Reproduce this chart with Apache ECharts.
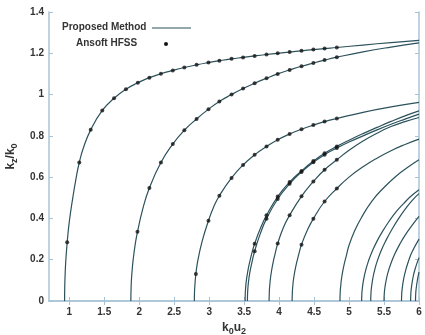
<!DOCTYPE html>
<html>
<head>
<meta charset="utf-8">
<script src="https://cdn.jsdelivr.net/npm/echarts@6/dist/echarts.min.js"></script>
<style>html,body{margin:0;padding:0;background:#fff;}#chart{width:425px;height:335px;}</style>
</head>
<body>
<div id="chart"></div>
<script>
// ---- tick labels ----
const xTicks = [1, 1.5, 2, 2.5, 3, 3.5, 4, 4.5, 5, 5.5, 6];
const yTicks = [0, 0.2, 0.4, 0.6, 0.8, 1, 1.2, 1.4];

// ---- Proposed Method curves (k0u2, kz/k0) ----
const curve1 = [[0.933,0],[0.935,0.066],[0.94,0.124],[0.95,0.193],[0.97,0.284],[1.0,0.383],[1.05,0.5],[1.1,0.6],[1.143,0.671],[1.2,0.74],[1.306,0.829],[1.472,0.923],[1.64,0.982],[1.81,1.026],[1.98,1.057],[2.145,1.082],[2.31,1.101],[2.48,1.117],[2.645,1.131],[2.82,1.144],[2.99,1.155],[3.146,1.164],[3.32,1.173],[3.485,1.180],[3.65,1.187],[3.82,1.194],[3.98,1.200],[4.15,1.206],[4.32,1.212],[4.49,1.218],[4.65,1.223],[4.825,1.228],[5.2,1.240],[5.6,1.252],[6.0,1.263]];
const curve2 = [[1.88,0],[1.885,0.078],[1.895,0.134],[1.915,0.205],[1.945,0.28],[1.975,0.335],[2.05,0.445],[2.145,0.547],[2.31,0.671],[2.48,0.760],[2.645,0.827],[2.82,0.882],[2.99,0.929],[3.146,0.967],[3.32,1.0],[3.485,1.029],[3.65,1.055],[3.82,1.079],[3.98,1.10],[4.15,1.119],[4.32,1.137],[4.49,1.153],[4.65,1.167],[4.825,1.181],[5.2,1.207],[5.6,1.23],[6.0,1.25]];
const curve3 = [[2.788,0],[2.79,0.04],[2.795,0.073],[2.81,0.131],[2.84,0.2],[2.9,0.29],[2.99,0.389],[3.07,0.46],[3.146,0.51],[3.32,0.596],[3.485,0.659],[3.65,0.708],[3.82,0.748],[3.98,0.781],[4.15,0.809],[4.32,0.832],[4.49,0.852],[4.65,0.869],[4.825,0.884],[5.2,0.914],[5.6,0.94],[6.0,0.962]];
const curve4 = [[3.514,0],[3.516,0.035],[3.52,0.058],[3.53,0.095],[3.55,0.14],[3.58,0.19],[3.62,0.244],[3.65,0.277],[3.73,0.35],[3.82,0.415],[3.98,0.506],[4.15,0.576],[4.32,0.63],[4.49,0.678],[4.65,0.716],[4.825,0.749],[5.0,0.779],[5.2,0.811],[5.4,0.841],[5.6,0.870],[5.8,0.897],[6.0,0.921]];
const curve5 = [[3.547,0],[3.549,0.035],[3.553,0.06],[3.563,0.095],[3.58,0.135],[3.61,0.185],[3.65,0.241],[3.73,0.325],[3.82,0.399],[3.98,0.494],[4.15,0.568],[4.32,0.625],[4.49,0.672],[4.65,0.709],[4.825,0.741],[5.0,0.77],[5.2,0.8],[5.4,0.829],[5.6,0.856],[5.8,0.881],[6.0,0.905]];
const curve6 = [[3.857,0],[3.86,0.045],[3.865,0.07],[3.88,0.12],[3.91,0.18],[3.94,0.225],[3.98,0.278],[4.06,0.355],[4.15,0.415],[4.32,0.507],[4.49,0.579],[4.65,0.636],[4.825,0.684],[5.0,0.73],[5.2,0.775],[5.4,0.813],[5.6,0.845],[5.8,0.869],[6.0,0.889]];
const curve7 = [[4.186,0],[4.189,0.04],[4.195,0.07],[4.21,0.115],[4.24,0.17],[4.28,0.225],[4.32,0.273],[4.4,0.34],[4.49,0.399],[4.65,0.482],[4.825,0.545],[5.0,0.6],[5.2,0.65],[5.4,0.692],[5.6,0.728],[5.8,0.758],[6.0,0.784]];
const curve8 = [[4.87,0],[4.873,0.04],[4.88,0.07],[4.895,0.115],[4.925,0.17],[4.965,0.225],[5.0,0.27],[5.08,0.34],[5.17,0.4],[5.33,0.485],[5.5,0.55],[5.68,0.607],[5.85,0.65],[6.0,0.684]];
const curve9 = [[5.18,0],[5.183,0.034],[5.19,0.062],[5.21,0.107],[5.24,0.152],[5.28,0.196],[5.33,0.24],[5.4,0.29],[5.48,0.338],[5.58,0.39],[5.68,0.435],[5.78,0.472],[5.88,0.506],[6.0,0.539]];
const curve10 = [[5.31,0],[5.313,0.035],[5.32,0.064],[5.34,0.11],[5.37,0.156],[5.41,0.2],[5.46,0.245],[5.53,0.295],[5.61,0.345],[5.71,0.4],[5.81,0.448],[5.91,0.49],[6.0,0.52]];
const curve11 = [[5.5,0],[5.503,0.032],[5.51,0.058],[5.53,0.1],[5.56,0.142],[5.6,0.183],[5.65,0.225],[5.72,0.272],[5.8,0.318],[5.9,0.366],[6.0,0.41]];
const curve12 = [[5.75,0],[5.753,0.033],[5.76,0.061],[5.78,0.106],[5.81,0.15],[5.85,0.193],[5.9,0.237],[6.0,0.3]];
const curve13 = [[5.88,0],[5.883,0.033],[5.89,0.061],[5.91,0.106],[5.94,0.15],[6.0,0.21]];
const curve14 = [[5.95,0],[5.953,0.034],[5.96,0.062],[5.98,0.107],[6.0,0.14]];

// ---- Ansoft HFSS points ----
const hfss1 = [[0.97,0.284],[1.143,0.671],[1.306,0.829],[1.472,0.923],[1.64,0.982],[1.81,1.026],[1.98,1.057],[2.145,1.082],[2.31,1.101],[2.48,1.117],[2.645,1.131],[2.82,1.144],[2.99,1.155],[3.146,1.164],[3.32,1.173],[3.485,1.180],[3.65,1.187],[3.82,1.194],[3.98,1.200],[4.15,1.206],[4.32,1.212],[4.49,1.218],[4.65,1.223],[4.825,1.228]];
const hfss2 = [[1.975,0.335],[2.145,0.547],[2.31,0.671],[2.48,0.760],[2.645,0.827],[2.82,0.882],[2.99,0.929],[3.146,0.967],[3.32,1.0],[3.485,1.029],[3.65,1.055],[3.82,1.079],[3.98,1.10],[4.15,1.119],[4.32,1.137],[4.49,1.153],[4.65,1.167],[4.825,1.181]];
const hfss3 = [[2.81,0.131],[2.99,0.389],[3.146,0.51],[3.32,0.596],[3.485,0.659],[3.65,0.708],[3.82,0.748],[3.98,0.781],[4.15,0.809],[4.32,0.832],[4.49,0.852],[4.65,0.869],[4.825,0.884]];
const hfss4 = [[3.65,0.277],[3.82,0.415],[3.98,0.506],[4.15,0.576],[4.32,0.63],[4.49,0.678],[4.65,0.716],[4.825,0.749]];
const hfss5 = [[3.65,0.241],[3.82,0.399],[3.98,0.494],[4.15,0.568],[4.32,0.625],[4.49,0.672],[4.65,0.709],[4.825,0.741]];
const hfss6 = [[3.98,0.278],[4.15,0.415],[4.32,0.507],[4.49,0.579],[4.65,0.636],[4.825,0.684]];
const hfss7 = [[4.32,0.273],[4.49,0.399],[4.65,0.482],[4.825,0.545]];

const curves = [curve1,curve2,curve3,curve4,curve5,curve6,curve7,curve8,curve9,curve10,curve11,curve12,curve13,curve14];
const hfssAll = [].concat(hfss1,hfss2,hfss3,hfss4,hfss5,hfss6,hfss7);

const LINE_COLOR = '#2c525c';
const AXIS_COLOR = '#a9c3d6';
const TEXT_COLOR = '#333333';
const FONT = '"Liberation Sans", Arial, sans-serif';

const chart = echarts.init(document.getElementById('chart'), null, {renderer: 'canvas'});

const series = curves.map((c) => ({
  name: 'Proposed Method',
  type: 'line',
  data: c,
  showSymbol: false,
  smooth: 0.5,
  lineStyle: {color: LINE_COLOR, width: 1.2},
  silent: true,
  z: 2
}));
series.push({
  name: 'Ansoft HFSS',
  type: 'scatter',
  data: hfssAll,
  symbol: 'circle',
  symbolSize: 4,
  itemStyle: {color: '#151515'},
  z: 3
});

const tickLabel = {fontFamily: FONT, fontWeight: 'bold', fontSize: 10, color: TEXT_COLOR};
const nameRich = {
  k: {fontFamily: FONT, fontWeight: 'bold', fontSize: 12, color: TEXT_COLOR},
  s: {fontFamily: FONT, fontWeight: 'bold', fontSize: 9, color: TEXT_COLOR, padding: [8, 0, 0, 0]}
};

chart.setOption({
  animation: false,
  backgroundColor: '#ffffff',
  grid: {left: 49, right: 6, top: 12, bottom: 34, containLabel: false, outerBoundsMode: 'none'},
  xAxis: [{
    type: 'value', min: 0.71, max: 6, position: 'bottom',
    axisLine: {lineStyle: {color: AXIS_COLOR, width: 1.5}},
    axisTick: {inside: true, length: 4, customValues: xTicks, lineStyle: {color: AXIS_COLOR}},
    axisLabel: Object.assign({customValues: xTicks, margin: 6, formatter: v => String(v)}, tickLabel),
    splitLine: {show: false},
    name: '{k|k}{s|0}{k|u}{s|2}',
    nameLocation: 'middle', nameGap: 11,
    nameTextStyle: {rich: nameRich}
  }, {
    type: 'value', min: 0.71, max: 6, position: 'top',
    axisLine: {lineStyle: {color: AXIS_COLOR, width: 1.5}},
    axisTick: {inside: true, length: 4, customValues: xTicks, lineStyle: {color: AXIS_COLOR}},
    axisLabel: {show: false},
    splitLine: {show: false}
  }],
  yAxis: [{
    type: 'value', min: 0, max: 1.4, interval: 0.2, position: 'left',
    axisLine: {show: true, lineStyle: {color: AXIS_COLOR, width: 1.5}},
    axisTick: {show: true, inside: true, length: 4, lineStyle: {color: AXIS_COLOR}},
    axisLabel: Object.assign({margin: 5, formatter: v => String(Math.round(v * 10) / 10)}, tickLabel),
    splitLine: {show: false},
    name: '{k|k}{s|z}{k|/k}{s|0}',
    nameLocation: 'middle', nameGap: 25, nameRotate: 90,
    nameTextStyle: {rich: nameRich}
  }, {
    type: 'value', min: 0, max: 1.4, interval: 0.2, position: 'right',
    axisLine: {show: true, lineStyle: {color: AXIS_COLOR, width: 1.5}},
    axisTick: {show: true, inside: true, length: 4, lineStyle: {color: AXIS_COLOR}},
    axisLabel: {show: false},
    splitLine: {show: false}
  }],
  graphic: [
    {type: 'text', left: 62, top: 22, style: {text: 'Proposed Method', font: 'bold 10px ' + FONT, fill: TEXT_COLOR}},
    {type: 'line', shape: {x1: 152, y1: 28, x2: 191, y2: 28}, style: {stroke: LINE_COLOR, lineWidth: 1.2}},
    {type: 'text', left: 76, top: 38, style: {text: 'Ansoft HFSS', font: 'bold 10px ' + FONT, fill: TEXT_COLOR}},
    {type: 'circle', shape: {cx: 166, cy: 44, r: 2}, style: {fill: '#151515'}}
  ],
  series: series
});
</script>
</body>
</html>
